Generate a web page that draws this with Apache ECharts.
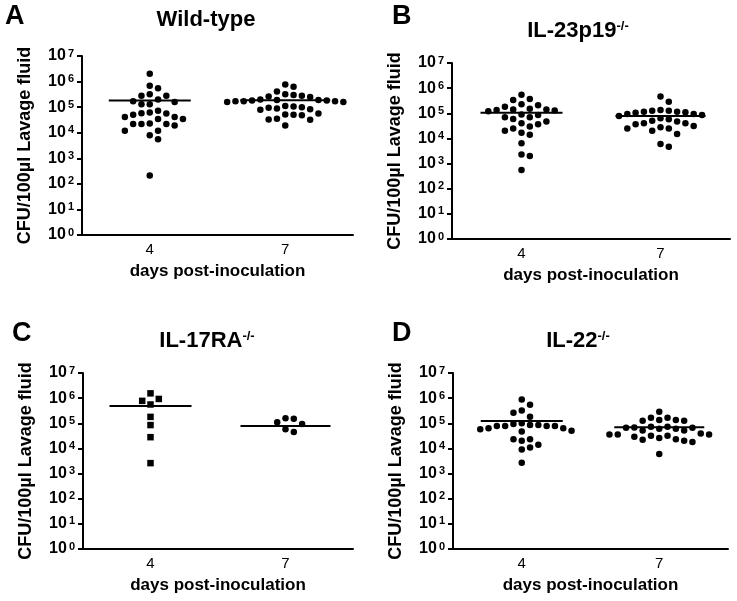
<!DOCTYPE html>
<html><head><meta charset="utf-8">
<script src="https://cdn.jsdelivr.net/npm/echarts@6/dist/echarts.min.js"></script>
<style>html,body{margin:0;padding:0;background:#fff}#c{width:737px;height:601px}</style>
</head><body><div id="c"></div><script>
// ---------------- data ----------------
const days = ['4', '7'];
const panelLetters = ['A', 'B', 'C', 'D'];
const panelTitles = ['Wild-type', 'IL-23p19', 'IL-17RA', 'IL-22'];
const titleSuperscripts = ['', '-/-', '-/-', '-/-'];
const yAxisTitle = 'CFU/100\u00b5l Lavage fluid';
const xAxisTitle = 'days post-inoculation';

const wtDay4 = [2.0e6, 6.9e5, 5.5e5, 3.2e5, 2.8e5, 2.8e5, 2.0e5, 1.7e5, 1.6e5, 1.3e5, 1.3e5, 7.2e4, 6.2e4, 5.8e4, 5.6e4, 5.0e4, 4.1e4, 4.1e4, 3.4e4, 3.4e4, 2.3e4, 2.2e4, 2.2e4, 2.2e4, 1.9e4, 1.2e4, 1.2e4, 7.9e3, 5.6e3, 210];
const wtDay7 = [7.6e5, 6.3e5, 4.1e5, 3.2e5, 3.0e5, 2.8e5, 2.6e5, 2.5e5, 2.0e5, 1.9e5, 1.9e5, 1.8e5, 1.8e5, 1.7e5, 1.7e5, 1.7e5, 1.6e5, 1.6e5, 1.1e5, 1.05e5, 1.0e5, 9.5e4, 8.9e4, 8.3e4, 7.9e4, 5.6e4, 5.2e4, 5.0e4, 4.8e4, 3.5e4, 3.3e4, 3.2e4, 1.9e4];
const il23Day4 = [5.4e5, 3.7e5, 3.4e5, 2.3e5, 2.1e5, 1.8e5, 1.5e5, 1.4e5, 1.4e5, 1.35e5, 1.3e5, 1.2e5, 9.0e4, 8.5e4, 7.0e4, 6.9e4, 5.9e4, 4.7e4, 4.0e4, 3.7e4, 3.0e4, 2.5e4, 2.0e4, 1.7e4, 1.4e4, 6.5e3, 2.3e3, 2.0e3, 550];
const il23Day7 = [4.6e5, 2.9e5, 1.35e5, 1.26e5, 1.26e5, 1.15e5, 1.15e5, 1.1e5, 1.05e5, 9.3e4, 9.3e4, 8.5e4, 7.8e4, 6.3e4, 5.8e4, 5.1e4, 4.7e4, 4.0e4, 4.0e4, 3.7e4, 3.1e4, 2.8e4, 2.5e4, 2.5e4, 2.0e4, 1.5e4, 6.0e3, 4.7e3];
const il17raDay4 = [1.55e6, 9.3e5, 7.8e5, 5.6e5, 1.8e5, 8.5e4, 2.8e4, 2.6e3];
const il17raDay7 = [1.6e5, 1.5e5, 1.1e5, 9.4e4, 5.8e4, 4.5e4];
const il22Day4 = [8.9e5, 5.4e5, 3.2e5, 2.6e5, 1.8e5, 1.0e5, 9.3e4, 8.5e4, 8.5e4, 7.8e4, 7.8e4, 7.8e4, 7.8e4, 6.3e4, 6.3e4, 5.8e4, 5.1e4, 4.7e4, 2.3e4, 2.3e4, 2.0e4, 1.4e4, 1.1e4, 9.1e3, 2.7e3];
const il22Day7 = [2.9e5, 1.66e5, 1.66e5, 1.35e5, 1.35e5, 1.26e5, 1.26e5, 7.2e4, 7.2e4, 6.8e4, 6.6e4, 6.6e4, 6.0e4, 6.0e4, 5.2e4, 5.2e4, 3.9e4, 3.6e4, 3.6e4, 3.6e4, 3.2e4, 3.2e4, 2.9e4, 2.6e4, 2.3e4, 2.2e4, 2.0e4, 1.8e4, 6.0e3];

// horizontal line (group mean)
const wtLines = [1.8e5, 1.85e5];
const il23Lines = [1.05e5, 7.8e4];
const il17raLines = [4.9e5, 7.8e4];
const il22Lines = [1.23e5, 6.9e4];

// ---------------- layout / style ----------------
const FONT = '"Liberation Sans", Arial, sans-serif';
const panels = [
  { d4: wtDay4, d7: wtDay7, lines: wtLines, sym4: 'circle' },
  { d4: il23Day4, d7: il23Day7, lines: il23Lines, sym4: 'circle' },
  { d4: il17raDay4, d7: il17raDay7, lines: il17raLines, sym4: 'rect' },
  { d4: il22Day4, d7: il22Day7, lines: il22Lines, sym4: 'circle' }
];
const grids = [
  { left: 82, top: 56, width: 271, height: 179 },
  { left: 452, top: 63, width: 278, height: 176 },
  { left: 83, top: 373, width: 270, height: 176 },
  { left: 453, top: 373, width: 275, height: 176 }
];
const letterPos = [[5, 3], [392, 3], [12, 320], [392, 320]];
const titlePos = [[206, 9], [578, 20], [207, 330], [578, 330]];

const SLOT = 8.3, DOT = 6.5, GAP = 8;

// simple beeswarm: integer slot per point, greedy in order of value
function swarm(values, decadePx) {
  const pts = values.map((v, i) => ({ v, y: Math.log10(v) * decadePx, i }));
  pts.sort((a, b) => b.v - a.v);
  const placed = [];
  const slots = new Array(values.length);
  for (const p of pts) {
    for (let k = 0; ; k++) {
      const s = k === 0 ? 0 : (k % 2 === 1 ? (k + 1) / 2 : -k / 2);
      if (!placed.some(q => q.s === s && Math.abs(q.y - p.y) < GAP)) {
        placed.push({ s, y: p.y });
        slots[p.i] = s;
        break;
      }
    }
  }
  return slots;
}

const option = {
  animation: false,
  backgroundColor: '#fff',
  grid: grids.map(g => Object.assign({ containLabel: false }, g)),
  xAxis: grids.map((g, i) => ({
    type: 'category', gridIndex: i, data: days, boundaryGap: true,
    axisLine: { lineStyle: { color: '#000', width: 2 } },
    axisTick: { show: false },
    axisLabel: { color: '#000', fontSize: 15, fontFamily: FONT, margin: 7 },
    name: xAxisTitle, nameLocation: 'middle', nameGap: 28,
    nameTextStyle: { color: '#000', fontSize: 17, fontWeight: 'bold', fontFamily: FONT }
  })),
  yAxis: grids.map((g, i) => ({
    type: 'log', logBase: 10, gridIndex: i, min: 1, max: 1e7, splitNumber: 7,
    axisLine: { show: true, lineStyle: { color: '#000', width: 2 } },
    axisTick: { show: true, length: 5, lineStyle: { color: '#000', width: 2 } },
    splitLine: { show: false },
    axisLabel: {
      margin: 8,
      formatter: v => '{b|10}{s|' + Math.round(Math.log10(v)) + '}',
      rich: {
        b: { color: '#000', fontSize: 16, fontWeight: 'bold', fontFamily: FONT },
        s: { color: '#000', fontSize: 11, fontWeight: 'bold', fontFamily: FONT, verticalAlign: 'top', padding: [0, 0, 0, 2] }
      }
    },
    name: yAxisTitle, nameLocation: 'middle', nameGap: 48,
    nameTextStyle: { color: '#000', fontSize: 18, fontWeight: 'bold', fontFamily: FONT }
  })),
  graphic: [],
  series: []
};

panels.forEach((p, i) => {
  const decadePx = grids[i].height / 7;
  [p.d4, p.d7].forEach((vals, d) => {
    const slots = swarm(vals, decadePx);
    option.series.push({
      type: 'scatter', xAxisIndex: i, yAxisIndex: i, z: 3,
      symbol: d === 0 ? p.sym4 : 'circle', symbolSize: DOT,
      itemStyle: { color: '#000', opacity: 1 },
      data: vals.map((v, k) => ({ value: [d, v], symbolOffset: [slots[k] * SLOT, 0] }))
    });
  });
  option.series.push({
    type: 'scatter', xAxisIndex: i, yAxisIndex: i, z: 2,
    symbol: 'rect', itemStyle: { color: '#000', opacity: 1 },
    data: p.lines.map((v, d) => ({ value: [d, v], symbolSize: [d === 0 ? 82 : 90, 2] }))
  });
  option.graphic.push({
    type: 'text', left: letterPos[i][0], top: letterPos[i][1],
    style: { text: panelLetters[i], fill: '#000', font: 'bold 27px ' + FONT }
  });
  const sup = titleSuperscripts[i];
  option.graphic.push({
    type: 'text', x: titlePos[i][0], y: titlePos[i][1],
    style: {
      text: '{m|' + panelTitles[i] + '}' + (sup ? '{s|' + sup + '}' : ''),
      align: 'center', verticalAlign: 'top',
      rich: {
        m: { fill: '#000', fontSize: 22, fontWeight: 'bold', fontFamily: FONT },
        s: { fill: '#000', fontSize: 13, fontWeight: 'bold', fontFamily: FONT, verticalAlign: 'top' }
      }
    }
  });
});

const chart = echarts.init(document.getElementById('c'), null, { renderer: 'canvas' });
chart.setOption(option);
</script></body></html>
